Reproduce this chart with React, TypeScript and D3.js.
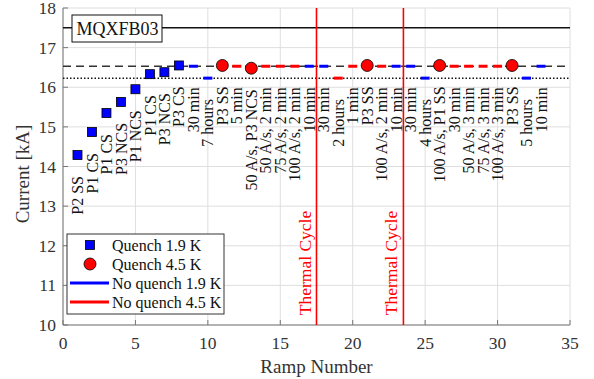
import React from "react";
import * as d3 from "d3";

const quenchRamps19 = [1, 2, 3, 4, 5, 6, 7, 8];
const quenchValues19 = [14.29, 14.87, 15.35, 15.63, 15.95, 16.33, 16.38, 16.55];
const quenchRamps45 = [11, 13, 21, 26, 31];
const quenchValues45 = [16.55, 16.48, 16.55, 16.55, 16.55];
const noQuenchRamps19 = [9, 10, 17, 18, 23, 24, 25, 32, 33];
const noQuenchValues19 = [16.53, 16.23, 16.53, 16.53, 16.53, 16.53, 16.23, 16.23, 16.53];
const noQuenchRamps45 = [12, 14, 15, 16, 19, 20, 22, 27, 28, 29, 30];
const noQuenchValues45 = [16.53, 16.53, 16.53, 16.53, 16.23, 16.53, 16.53, 16.53, 16.53, 16.53, 16.53];
const rampLabels = [
  "P2 SS", "P1 CS", "P1 CS", "P3 NCS", "P1 NCS", "P1 CS", "P3 NCS", "P3 CS",
  "30 min", "7 hours", "P3 SS", "5 min", "50 A/s, P3 NCS", "50 A/s, 2 min",
  "75 A/s, 2 min", "100 A/s, 2 min", "10 min", "30 min", "2 hours", "1 min",
  "P3 SS", "100 A/s, 2 min", "10 min", "30 min", "4 hours", "100 A/s, P1 SS",
  "30 min", "50 A/s, 3 min", "75 A/s, 3 min", "100 A/s, 3 min", "P3 SS",
  "5 hours", "10 min",
];
const thermalCycles = [17.5, 23.5];
const limitLine = 17.5;
const dashedLevel = 16.53;
const dottedLevel = 16.23;
const xTicks = [0, 5, 10, 15, 20, 25, 30, 35];
const yTicks = [10, 11, 12, 13, 14, 15, 16, 17, 18];
const magnetName = "MQXFB03";

const W = 594, H = 379;
const L = 63, R = 570, T = 8, B = 325;
const FONT = "'Liberation Serif', 'Times New Roman', serif";

export default function App() {
  const x = d3.scaleLinear().domain([0, 35]).range([L, R]);
  const y = d3.scaleLinear().domain([10, 18]).range([B, T]);

  const valueByRamp = new Map<number, number>();
  quenchRamps19.forEach((r, i) => valueByRamp.set(r, quenchValues19[i]));
  quenchRamps45.forEach((r, i) => valueByRamp.set(r, quenchValues45[i]));
  noQuenchRamps19.forEach((r, i) => valueByRamp.set(r, noQuenchValues19[i]));
  noQuenchRamps45.forEach((r, i) => valueByRamp.set(r, noQuenchValues45[i]));

  const dashW = 9;
  const sq = 9;

  return (
    <svg width={W} height={H} style={{ position: "absolute", left: 0, top: 0, background: "#fff" }} fontFamily={FONT}>
      {xTicks.map((t) => (
        <line key={"gx" + t} x1={x(t)} x2={x(t)} y1={T} y2={B} stroke="#dedede" strokeWidth={1} />
      ))}
      {yTicks.map((t) => (
        <line key={"gy" + t} x1={L} x2={R} y1={y(t)} y2={y(t)} stroke="#dedede" strokeWidth={1} />
      ))}
      <line x1={L} x2={L} y1={T} y2={B} stroke="#777" strokeWidth={1} />
      <line x1={L} x2={R} y1={B} y2={B} stroke="#777" strokeWidth={1} />
      {xTicks.map((t) => (
        <g key={"tx" + t}>
          <line x1={x(t)} x2={x(t)} y1={B} y2={B - 5} stroke="#777" />
          <text x={x(t)} y={349} fontSize={17.5} textAnchor="middle" fill="#333">{t}</text>
        </g>
      ))}
      {yTicks.map((t) => (
        <g key={"ty" + t}>
          <line x1={L} x2={L + 5} y1={y(t)} y2={y(t)} stroke="#777" />
          <text x={56} y={y(t) + 6} fontSize={17.5} textAnchor="end" fill="#333">{t}</text>
        </g>
      ))}
      <text x={(L + R) / 2} y={373} fontSize={19} textAnchor="middle" fill="#333">Ramp Number</text>
      <text transform={`translate(29,${174}) rotate(-90)`} fontSize={19} textAnchor="middle" fill="#333">Current [kA]</text>

      <line x1={L} x2={R} y1={y(limitLine)} y2={y(limitLine)} stroke="#111" strokeWidth={1.5} />
      <line x1={L} x2={R} y1={y(dashedLevel)} y2={y(dashedLevel)} stroke="#333" strokeWidth={1.6} strokeDasharray="8,5" />
      <line x1={L} x2={R} y1={y(dottedLevel)} y2={y(dottedLevel)} stroke="#111" strokeWidth={1.5} strokeDasharray="1.5,2" />

      <rect x={72} y={15} width={90} height={27} fill="#fff" stroke="#111" strokeWidth={1} />
      <text x={117.5} y={35} fontSize={18} textAnchor="middle" fill="#111">{magnetName}</text>

      {thermalCycles.map((c) => (
        <g key={"tc" + c}>
          <line x1={x(c)} x2={x(c)} y1={T} y2={B} stroke="#ff0000" strokeWidth={1.6} />
          <text transform={`translate(${x(c) - 6},${263}) rotate(-90)`} fontSize={17.5} textAnchor="middle" fill="#ff0000">Thermal Cycle</text>
        </g>
      ))}

      {noQuenchRamps19.map((r, i) => (
        <line key={"nb" + r} x1={x(r) - dashW / 2} x2={x(r) + dashW / 2} y1={y(noQuenchValues19[i])} y2={y(noQuenchValues19[i])} stroke="#0000ff" strokeWidth={3} />
      ))}
      {noQuenchRamps45.map((r, i) => (
        <line key={"nr" + r} x1={x(r) - dashW / 2} x2={x(r) + dashW / 2} y1={y(noQuenchValues45[i])} y2={y(noQuenchValues45[i])} stroke="#ff0000" strokeWidth={3} />
      ))}

      {quenchRamps19.map((r, i) => (
        <rect key={"qb" + r} x={x(r) - sq / 2} y={y(quenchValues19[i]) - sq / 2} width={sq} height={sq} fill="#0000ff" stroke="#000" strokeWidth={0.8} />
      ))}
      {quenchRamps45.map((r, i) => (
        <circle key={"qr" + r} cx={x(r)} cy={y(quenchValues45[i])} r={6} fill="#ff0000" stroke="#000" strokeWidth={0.8} />
      ))}

      {rampLabels.map((lab, i) => {
        const r = i + 1;
        const v = valueByRamp.get(r) ?? 16.5;
        return (
          <text key={"lab" + r} transform={`translate(${x(r)},${y(v) + 21}) rotate(-90)`} dy="0.35em" fontSize={16} textAnchor="end" fill="#111">{lab}</text>
        );
      })}

      <g>
        <rect x={67} y={234} width={157} height={80} fill="#fff" stroke="#333" strokeWidth={1} />
        <rect x={90 - 4.5} y={245 - 4.5} width={9} height={9} fill="#0000ff" stroke="#000" strokeWidth={0.8} />
        <text x={112} y={250.5} fontSize={16} fill="#111">Quench 1.9 K</text>
        <circle cx={90} cy={264} r={6} fill="#ff0000" stroke="#000" strokeWidth={0.8} />
        <text x={112} y={269.5} fontSize={16} fill="#111">Quench 4.5 K</text>
        <line x1={70} x2={109} y1={283} y2={283} stroke="#0000ff" strokeWidth={3} />
        <text x={112} y={288.5} fontSize={16} fill="#111">No quench 1.9 K</text>
        <line x1={70} x2={109} y1={302} y2={302} stroke="#ff0000" strokeWidth={3} />
        <text x={112} y={307.5} fontSize={16} fill="#111">No quench 4.5 K</text>
      </g>
    </svg>
  );
}
